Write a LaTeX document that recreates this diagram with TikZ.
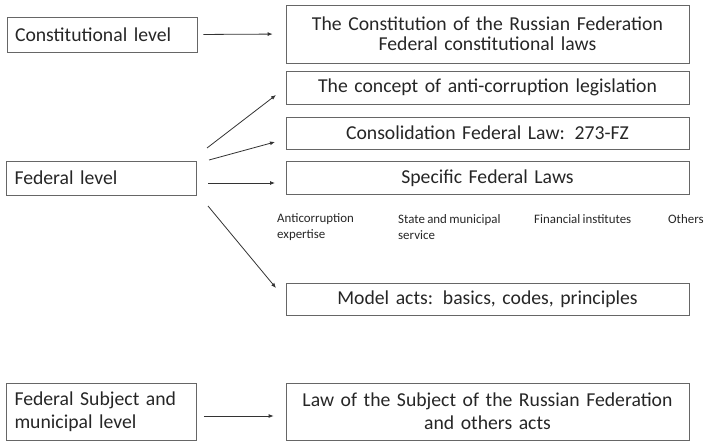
\documentclass[tikz,border=0pt]{standalone}
\usepackage{fontspec}
\setmainfont{Carlito}[WordSpace=0.8]
\usetikzlibrary{arrows.meta}
\begin{document}
\begin{tikzpicture}[x=1pt,y=-1pt,
  every node/.style={text=black!85},
  lbox/.style={draw=black!60, line width=0.8pt, inner xsep=8pt, inner ysep=0pt,
    text width=174pt, minimum width=190pt, align=left,
    font=\fontsize{19.7}{23}\selectfont},
  rbox/.style={draw=black!60, line width=0.8pt, inner xsep=8pt, inner ysep=0pt,
    text width=387pt, minimum width=403pt, align=center,
    font=\fontsize{19.7}{20}\selectfont},
  small/.style={inner sep=0pt, anchor=west, align=left,
    font=\fontsize{12.9}{16}\selectfont},
  arr/.style={draw=black!80, line width=0.8pt, -{Latex[length=5pt,width=4pt]}}
]
\useasboundingbox (0,0) rectangle (704,441);

% left boxes
\node[lbox, minimum height=35pt] (constlev) at (102,34.5) {Constitutional level};
\node[lbox, minimum height=34pt] (fedlev) at (101.5,178) {Federal level};
\node[lbox, minimum height=57pt] (fedsubj) at (101.5,411.5) {Federal Subject and\\municipal level};

% right boxes
\node[rbox, minimum height=58pt] (constitution) at (487.5,34) {The Constitution of the Russian Federation\\Federal constitutional laws};
\node[rbox, minimum height=33pt] (concept) at (487.5,87.5) {The concept of anti-corruption legislation};
\node[rbox, minimum height=32pt] (consol) at (487.5,133) {Consolidation Federal Law: 273-FZ};
\node[rbox, minimum height=33pt] (specific) at (487.5,178) {Specific Federal Laws};
\node[rbox, minimum height=32pt] (model) at (487.5,299) {Model acts: basics, codes, principles};
\node[rbox, minimum height=57pt, font=\fontsize{19.7}{23}\selectfont] (law) at (487.5,411.5) {Law of the Subject of the Russian Federation\\and others acts};

% small labels
\node[small] (anti) at (277,227) {Anticorruption\\expertise};
\node[small] (state) at (398,227) {State and municipal\\service};
\node[small] (fin) at (534,219) {Financial institutes};
\node[small] (oth) at (668,219) {Others};

% arrow endpoints
\coordinate (a1s) at (207,148);
\coordinate (a1e) at (276,95);
\coordinate (a2s) at (209,160);
\coordinate (a2e) at (275,142);
\coordinate (a3s) at (208,183);
\coordinate (a3e) at (275,183);
\coordinate (a4s) at (208,206);
\coordinate (a4e) at (276,288);

\draw[arr, shorten <=6pt, shorten >=13pt] (constlev.east) -- (constitution.west);
\draw[arr] (a1s) -- (a1e);
\draw[arr] (a2s) -- (a2e);
\draw[arr] (a3s) -- (a3e);
\draw[arr] (a4s) -- (a4e);
\draw[arr, shorten <=7pt, shorten >=12pt] (fedsubj.east |- 0,416) coordinate (fs) -- (law.west |- 0,416) coordinate (lw);
\end{tikzpicture}
\end{document}
